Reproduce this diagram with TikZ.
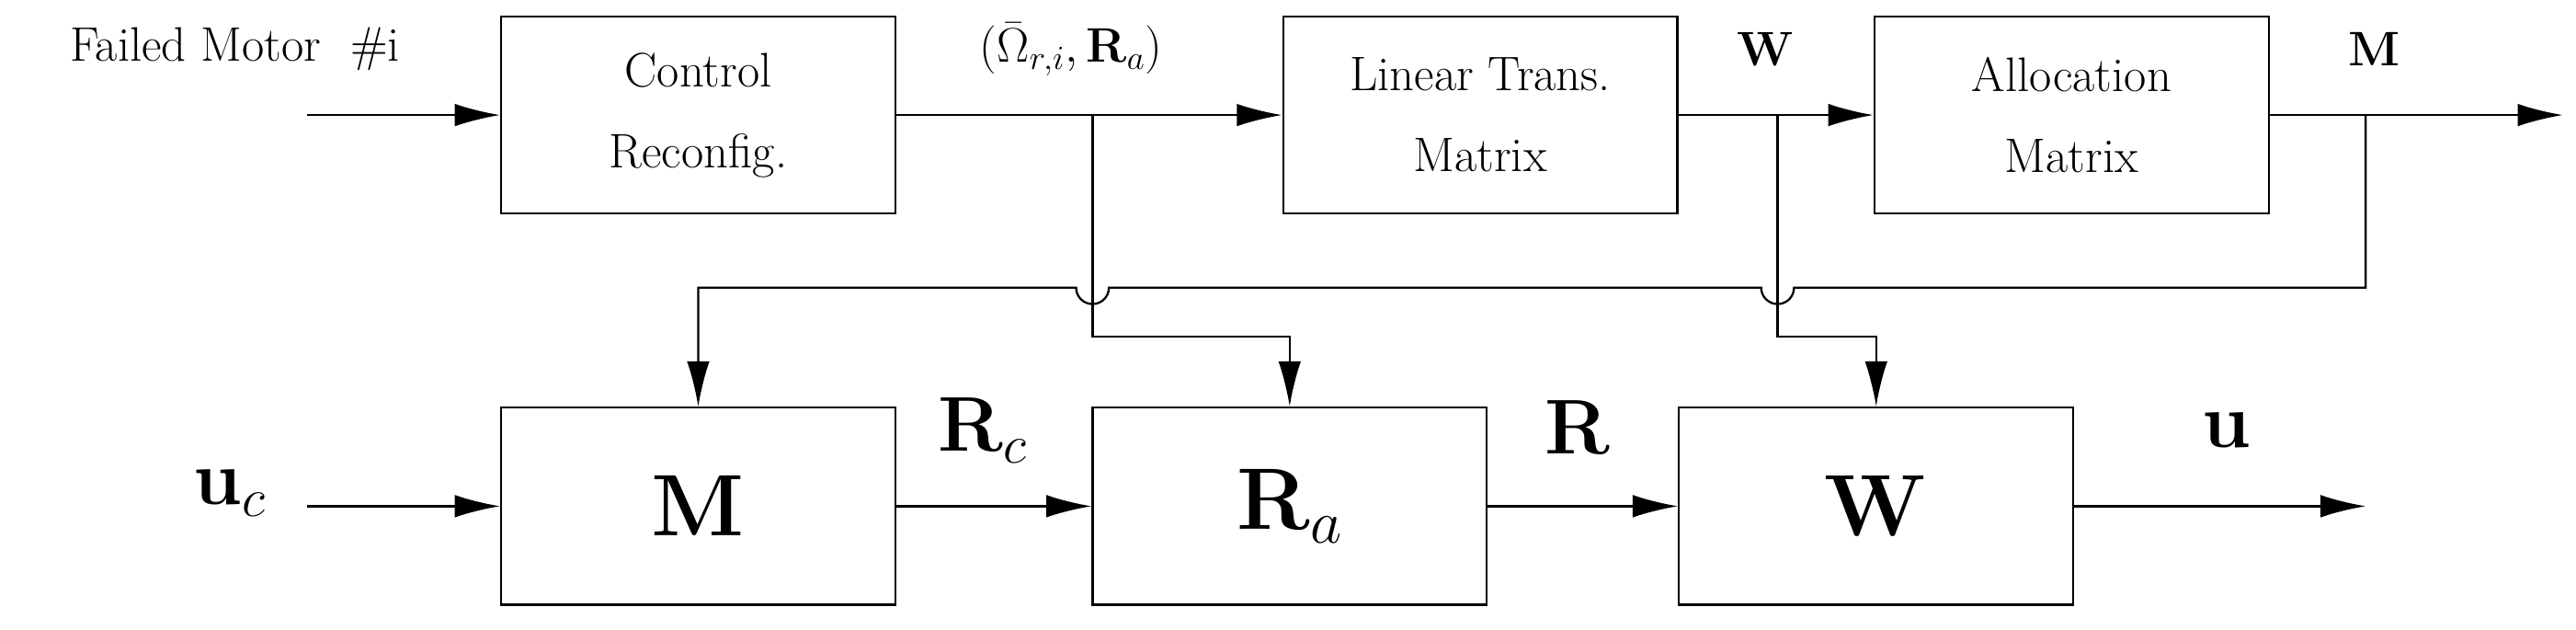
\RequirePackage{fix-cm}
\documentclass[tikz,border=0pt]{standalone}
\usepackage{amsmath}
\usetikzlibrary{arrows.meta}
\begin{document}
\begin{tikzpicture}[x=0.03574cm,y=-0.03574cm,
  box/.style={draw,line width=1.3pt,minimum width=240*0.03574cm,minimum height=120*0.03574cm,inner sep=0pt},
  sm/.style={font=\fontsize{30}{36}\selectfont},
  bg/.style={font=\fontsize{54}{60}\selectfont},
  lb/.style={font=\fontsize{48}{54}\selectfont},
  ar/.style={line width=1.3pt,-{Latex[length=28pt,width=14pt]}},
  ln/.style={line width=1.3pt}]
\useasboundingbox (0,0) rectangle (1568,383);
\node[box,sm,align=center] (cr) at (425,70) {Control\\[14pt]Reconfig.};
\node[box,sm,align=center] (lt) at (901,70) {Linear Trans.\\[14pt]Matrix};
\node[box,sm,align=center] (al) at (1261,70) {Allocation\\[14pt]Matrix};
\node[box,bg] (bm) at (425,308) {$\mathbf{M}$};
\node[box,bg] (br) at (785,308) {$\mathbf{R}_a$};
\node[box,bg] (bw) at (1142,308) {$\mathbf{W}$};
\coordinate (in1) at (187,70);
\coordinate (out1) at (1560,70);
\coordinate (in2) at (187,308);
\coordinate (out2) at (1440,308);
\node[sm] (fm) at (143,30) {Failed Motor\ \ \#i};
\node[sm] (om) at (652,30) {$(\bar\Omega_{r,i},\mathbf{R}_a)$};
\node[sm] (lw) at (1075,30) {$\mathbf{W}$};
\node[sm] (lm) at (1445,30) {$\mathbf{M}$};
\node[lb] (lrc) at (598,262) {$\mathbf{R}_c$};
\node[lb] (lr) at (960,260) {$\mathbf{R}$};
\node[lb] (lu) at (1355,262) {$\mathbf{u}$};
\node[lb] (luc) at (140,300) {$\mathbf{u}_c$};
\draw[ar] (in1) -- (cr.west);
\draw[ar] (cr.east) -- (lt.west);
\draw[ar] (lt.east) -- (al.west);
\draw[ar] (al.east) -- (out1);
\draw[ar] (in2) -- (bm.west);
\draw[ar] (bm.east) -- (br.west);
\draw[ar] (br.east) -- (bw.west);
\draw[ar] (bw.east) -- (out2);
\draw[ar] (665,70) -- (665,205) -- (785,205) -- (br.north);
\draw[ar] (1082,70) -- (1082,205) -- (1142,205) -- (bw.north);
\draw[ar] (1440,70) -- (1440,175) -- (1092,175) arc[start angle=0,end angle=180,radius=10] -- (675,175) arc[start angle=0,end angle=180,radius=10] -- (425,175) -- (bm.north);
\end{tikzpicture}
\end{document}
